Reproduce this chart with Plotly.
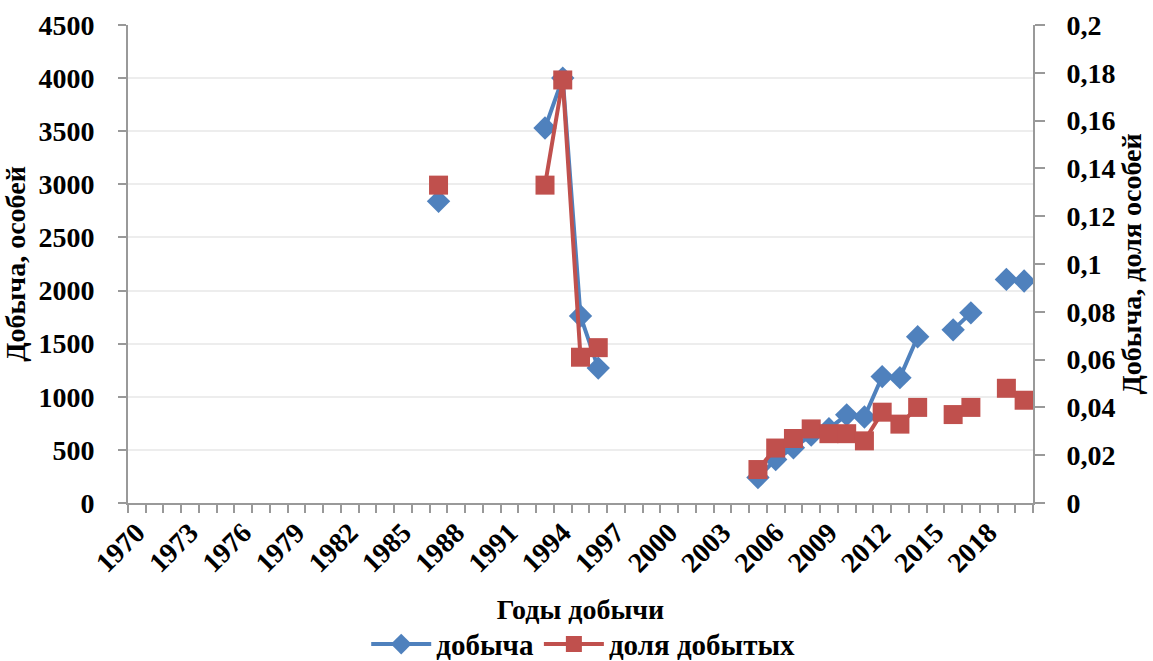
import plotly.graph_objects as go

years = list(range(1970, 2021))
catch_vals = {
    1987: 2840, 1993: 3530, 1994: 4000, 1995: 1760, 1996: 1270,
    2005: 240, 2006: 410, 2007: 520, 2008: 640, 2009: 700, 2010: 830,
    2011: 810, 2012: 1190, 2013: 1180, 2014: 1565, 2016: 1630, 2017: 1790,
    2019: 2105, 2020: 2090,
}
share_vals = {
    1987: 0.133, 1993: 0.133, 1994: 0.177, 1995: 0.061, 1996: 0.065,
    2005: 0.014, 2006: 0.023, 2007: 0.027, 2008: 0.031, 2009: 0.029, 2010: 0.029,
    2011: 0.026, 2012: 0.038, 2013: 0.033, 2014: 0.040, 2016: 0.037, 2017: 0.040,
    2019: 0.048, 2020: 0.043,
}
catch = [catch_vals.get(y) for y in years]
share = [share_vals.get(y) for y in years]
label_years = list(range(1970, 2019, 3))
left_ticks = list(range(0, 4501, 500))
right_ticks = [i * 0.02 for i in range(11)]
right_text = ["0"] + [("%.2f" % v).rstrip("0").replace(".", ",") for v in right_ticks[1:]]

FF = "Liberation Serif"


def bf(size):
    return dict(family=FF, size=size, color="black", weight="bold")


fig = go.Figure()
fig.add_trace(go.Scatter(
    x=years, y=catch, name="добыча", mode="lines+markers",
    line=dict(color="#4F81BD", width=4),
    marker=dict(symbol="diamond", size=18, color="#4F81BD"),
    connectgaps=False,
))
fig.add_trace(go.Scatter(
    x=years, y=share, name="доля добытых", mode="lines+markers", yaxis="y2",
    line=dict(color="#C0504D", width=4),
    marker=dict(symbol="square", size=19, color="#C0504D"),
    connectgaps=False,
))

fig.update_layout(
    width=1153, height=661,
    margin=dict(l=128, r=120, t=25, b=158, autoexpand=False),
    paper_bgcolor="white", plot_bgcolor="white",
    font=bf(28),
    showlegend=True,
    legend=dict(orientation="h", x=0.503, xanchor="center", y=-0.242, yanchor="top",
                font=bf(29), bgcolor="rgba(0,0,0,0)", itemwidth=60,
                tracegroupgap=0),
    xaxis=dict(
        range=[1969.5, 2020.5], tickmode="array", tickvals=label_years,
        ticktext=[str(y) for y in label_years], tickangle=-45, ticks="",
        showgrid=False, zeroline=False, automargin=False,
        showline=True, linecolor="#999999", linewidth=2,
        tickfont=bf(28),
        minor=dict(ticks="outside", tick0=1969.5, dtick=1, ticklen=8,
                   tickcolor="#999999", tickwidth=2, showgrid=False),
        title=dict(text="Годы добычи", standoff=22, font=bf(28)),
    ),
    yaxis=dict(
        range=[0, 4500], tickmode="array", tickvals=left_ticks,
        ticks="outside", ticklen=8, tickcolor="#999999", tickwidth=2,
        showline=True, linecolor="#999999", linewidth=2, automargin=False,
        showgrid=True, gridcolor="#EDEDED", gridwidth=2, zeroline=False,
        tickfont=bf(28),
        ticklabelstandoff=18,
        title=dict(text="Добыча, особей", standoff=6, font=bf(28)),
    ),
    yaxis2=dict(
        range=[0, 0.2], overlaying="y", side="right", tickmode="array",
        tickvals=right_ticks, ticktext=right_text,
        ticks="outside", ticklen=10, tickcolor="#999999", tickwidth=2,
        showline=True, linecolor="#999999", linewidth=2, automargin=False,
        showgrid=False, zeroline=False,
        tickfont=bf(28),
        ticklabelstandoff=16,
        title=dict(text="Добыча, доля особей", standoff=6, font=bf(28)),
    ),
)

fig.write_html("out.html", config={"displayModeBar": False},
               post_script="document.body.style.margin='0';document.body.style.overflow='hidden';")
